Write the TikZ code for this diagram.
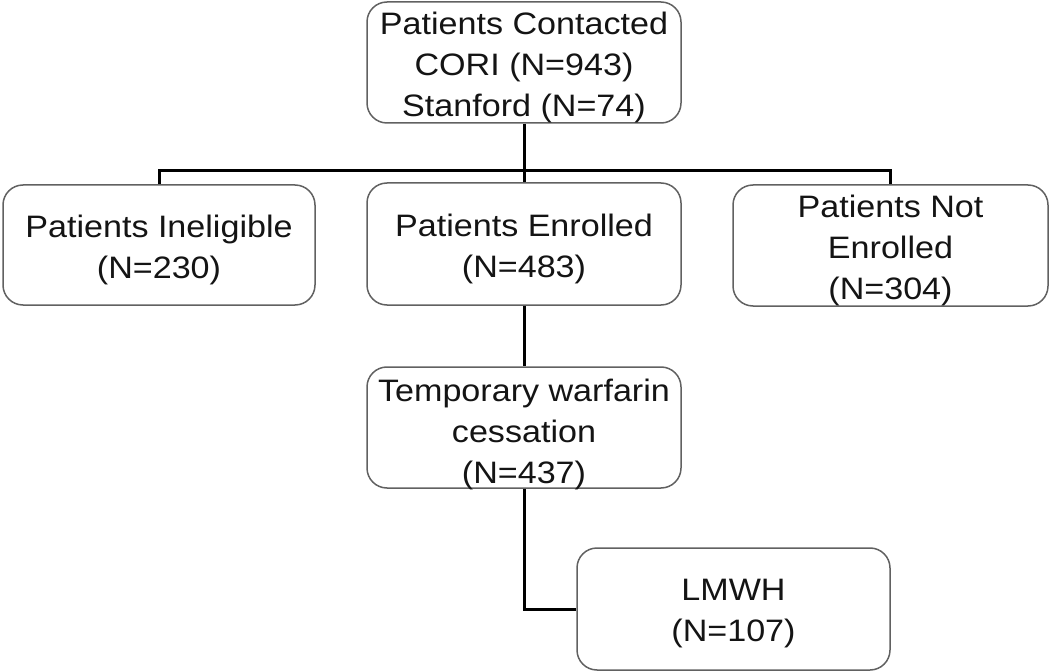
\documentclass[tikz,border=0pt]{standalone}
\usepackage{fontspec}
\setmainfont{Liberation Sans}[FakeStretch=1.1]
\begin{document}
\begin{tikzpicture}[x=1pt,y=-1pt,
  box/.style={draw=black!62, line width=1.5pt, rounded corners=20pt, fill=white,
    inner sep=0pt},
  txt/.style={align=center, inner sep=0pt, text=black!92, yshift=-5pt,
    font=\fontsize{31}{41}\selectfont},
  conn/.style={draw=black, line width=3pt}]
\useasboundingbox (0,0) rectangle (1050,671);
\node[box, minimum width=314pt, minimum height=121pt] (top) at (524,62.5) {};
\node[box, minimum width=312pt, minimum height=120pt] (inel) at (159,245) {};
\node[box, minimum width=314pt, minimum height=122pt] (enr) at (524,244) {};
\node[box, minimum width=315pt, minimum height=121pt] (notenr) at (890.5,245.5) {};
\node[box, minimum width=314pt, minimum height=121pt] (temp) at (524,427.5) {};
\node[box, minimum width=313pt, minimum height=122pt] (lmwh) at (733.5,609) {};
\node[txt] (topt) at (top.center) {Patients Contacted\\CORI (N=943)\\Stanford (N=74)};
\node[txt] (inelt) at (inel.center) {Patients Ineligible\\(N=230)};
\node[txt] (enrt) at (enr.center) {Patients Enrolled\\(N=483)};
\node[txt] (notenrt) at (notenr.center) {Patients Not\\Enrolled\\(N=304)};
\node[txt, yshift=-2pt] (tempt) at (temp.center) {Temporary warfarin\\cessation\\(N=437)};
\node[txt] (lmwht) at (lmwh.center) {LMWH\\(N=107)};
\coordinate (bus) at (524,171);
\draw[conn] (top.south) -- (enr.north);
\draw[conn] (inel.north) |- (bus) -| (notenr.north);
\draw[conn] (enr.south) -- (temp.north);
\draw[conn] (temp.south) |- (lmwh.west);
\end{tikzpicture}
\end{document}
